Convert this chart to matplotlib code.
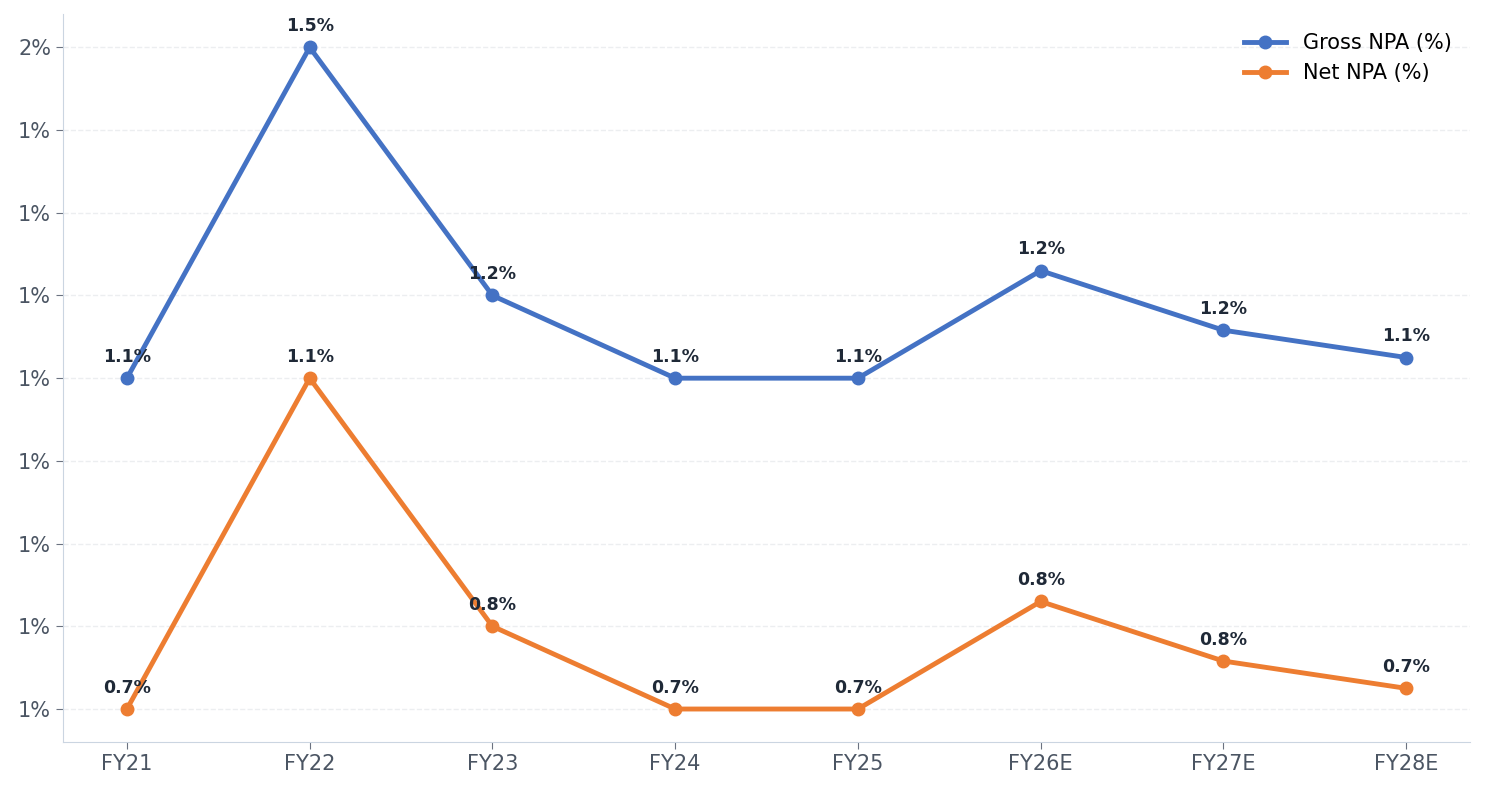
import numpy as np
import matplotlib.pyplot as plt
from matplotlib.ticker import FuncFormatter

years = ['FY21', 'FY22', 'FY23', 'FY24', 'FY25', 'FY26E', 'FY27E', 'FY28E']
gross_npa = [1.10, 1.50, 1.20, 1.10, 1.10, 1.23, 1.158, 1.125]
net_npa = [0.70, 1.10, 0.80, 0.70, 0.70, 0.83, 0.758, 0.725]

fig, ax = plt.subplots(figsize=(14.85, 7.92), dpi=100)
fig.subplots_adjust(left=0.0424, right=0.99, top=0.982, bottom=0.063)

x = np.arange(len(years))
ax.plot(x, gross_npa, color='#4472C4', lw=3.5, marker='o', ms=9, label='Gross NPA (%)')
ax.plot(x, net_npa, color='#ED7D31', lw=3.5, marker='o', ms=9, label='Net NPA (%)')

for series in (gross_npa, net_npa):
    for xi, v in zip(x, series):
        ax.annotate(f'{v:.1f}%', (xi, v), xytext=(0, 9), textcoords='offset points',
                    ha='center', va='bottom', fontsize=12.5, fontweight='bold', color='#1f2937')

ax.set_xticks(x)
ax.set_xticklabels(years)
ax.set_xlim(-0.35, 7.35)
ax.set_ylim(0.66, 1.54)
ax.set_yticks(np.round(np.arange(0.7, 1.55, 0.1), 2))
ax.yaxis.set_major_formatter(FuncFormatter(lambda v, p: f'{round(v, 6):.0f}%'))

ax.grid(axis='y', linestyle='--', color='#e5e7eb', alpha=0.7, lw=1)
ax.set_axisbelow(True)
for s in ('top', 'right'):
    ax.spines[s].set_visible(False)
for s in ('left', 'bottom'):
    ax.spines[s].set_color('#cbd5e1')
ax.tick_params(colors='#4b5563', labelsize=15, length=5)
ax.tick_params(axis='both', color='#6b7280')

ax.legend(loc='upper right', frameon=False, fontsize=15)

fig.savefig('out.png', dpi=100)
